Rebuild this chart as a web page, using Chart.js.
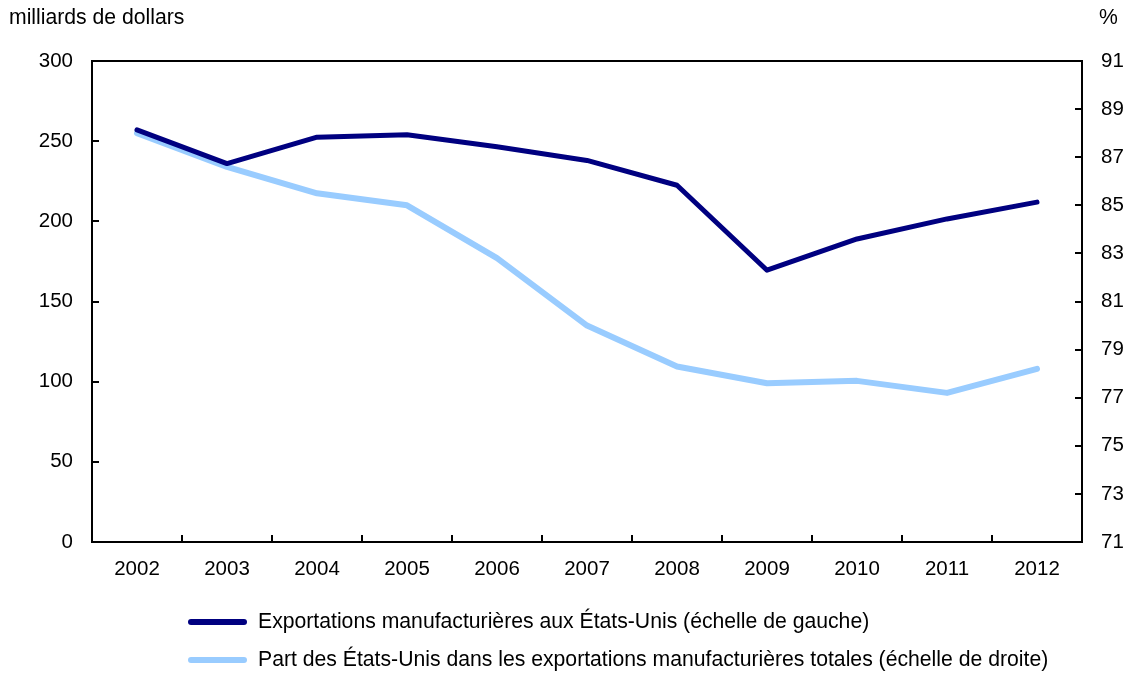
<!DOCTYPE html>
<html>
<head>
<meta charset="utf-8">
<script src="https://cdn.jsdelivr.net/npm/chart.js@4"></script>
<style>
  html, body { margin: 0; padding: 0; background: #fff; }
</style>
</head>
<body>
<canvas id="chart" width="1126" height="673"></canvas>
<script>
// data
const years = ["2002", "2003", "2004", "2005", "2006", "2007", "2008", "2009", "2010", "2011", "2012"];
const exportsUS = [257, 236, 252.5, 254, 246.5, 238, 222.5, 169.5, 189, 201.5, 212];   // milliards de dollars
const shareUS = [88.0, 86.6, 85.5, 85.0, 82.8, 80.0, 78.3, 77.6, 77.7, 77.2, 78.2];    // %

const seriesNames = [
  "Exportations manufacturières aux États-Unis (échelle de gauche)",
  "Part des États-Unis dans les exportations manufacturières totales (échelle de droite)",
];
const seriesColors = ["#000080", "#99ccff"];

const leftTitle = "milliards de dollars";
const rightTitle = "%";

const FONT = "'Liberation Sans', Arial, sans-serif";
const TICK_SIZE = 20.5;
const TEXT_SIZE = 21.2;

// inner tick marks, top border, axis titles and the legend
const decorPlugin = {
  id: "decor",
  afterDraw(chart) {
    const ctx = chart.ctx;
    const area = chart.chartArea;
    const x = chart.scales.x;
    const yL = chart.scales.y;
    const yR = chart.scales.y1;
    const tickLen = 7;

    ctx.save();
    ctx.strokeStyle = "#000";
    ctx.lineWidth = 2;

    // top border
    ctx.beginPath();
    ctx.moveTo(area.left - 1, area.top);
    ctx.lineTo(area.right + 1, area.top);
    ctx.stroke();

    // left ticks
    yL.ticks.forEach((t) => {
      if (t.value <= yL.min || t.value >= yL.max) return;
      const py = Math.round(yL.getPixelForValue(t.value));
      ctx.beginPath();
      ctx.moveTo(area.left, py);
      ctx.lineTo(area.left + tickLen, py);
      ctx.stroke();
    });

    // right ticks
    yR.ticks.forEach((t) => {
      if (t.value <= yR.min || t.value >= yR.max) return;
      const py = Math.round(yR.getPixelForValue(t.value));
      ctx.beginPath();
      ctx.moveTo(area.right, py);
      ctx.lineTo(area.right - tickLen, py);
      ctx.stroke();
    });

    // x ticks between categories
    for (let i = 0; i < years.length - 1; i++) {
      const px = Math.round((x.getPixelForTick(i) + x.getPixelForTick(i + 1)) / 2);
      ctx.beginPath();
      ctx.moveTo(px, area.bottom);
      ctx.lineTo(px, area.bottom - tickLen);
      ctx.stroke();
    }

    // axis titles
    ctx.fillStyle = "#000";
    ctx.font = TEXT_SIZE + "px " + FONT;
    ctx.textBaseline = "middle";
    ctx.textAlign = "left";
    ctx.fillText(leftTitle, 9, 18);
    ctx.fillText(rightTitle, 1099, 18);

    // legend
    const legendY = [622, 660];
    seriesNames.forEach((name, i) => {
      ctx.strokeStyle = seriesColors[i];
      ctx.lineWidth = 6;
      ctx.lineCap = "round";
      ctx.beginPath();
      ctx.moveTo(191, legendY[i]);
      ctx.lineTo(244, legendY[i]);
      ctx.stroke();
      ctx.fillText(name, 258, legendY[i]);
    });

    ctx.restore();
  },
};

const tickFont = { family: FONT, size: TICK_SIZE };

new Chart(document.getElementById("chart"), {
  type: "line",
  data: {
    labels: years,
    datasets: [
      {
        label: seriesNames[0],
        data: exportsUS,
        yAxisID: "y",
        borderColor: seriesColors[0],
        backgroundColor: seriesColors[0],
        borderWidth: 5,
        pointRadius: 0,
        tension: 0,
        borderCapStyle: "round",
        borderJoinStyle: "round",
      },
      {
        label: seriesNames[1],
        data: shareUS,
        yAxisID: "y1",
        borderColor: seriesColors[1],
        backgroundColor: seriesColors[1],
        borderWidth: 6,
        pointRadius: 0,
        tension: 0,
        borderCapStyle: "round",
        borderJoinStyle: "round",
      },
    ],
  },
  options: {
    responsive: false,
    animation: false,
    layout: {
      padding: { top: 61, bottom: 86, left: 0, right: 0 },
    },
    plugins: {
      legend: { display: false },
      tooltip: { enabled: false },
    },
    scales: {
      x: {
        offset: true,
        grid: { display: true, drawOnChartArea: false, drawTicks: false },
        border: { display: true, color: "#000", width: 2 },
        ticks: { color: "#000", font: tickFont, padding: 15, maxRotation: 0 },
        afterFit(scale) {
          scale.height = 45;
        },
      },
      y: {
        position: "left",
        min: 0,
        max: 300,
        grid: { display: true, drawOnChartArea: false, drawTicks: false },
        border: { display: true, color: "#000", width: 2 },
        ticks: { stepSize: 50, color: "#000", font: tickFont, padding: 19 },
        afterFit(scale) {
          scale.width = 92;
        },
      },
      y1: {
        position: "right",
        min: 71,
        max: 91,
        grid: { display: true, drawOnChartArea: false, drawTicks: false },
        border: { display: true, color: "#000", width: 2 },
        ticks: { stepSize: 2, color: "#000", font: tickFont, padding: 19 },
        afterFit(scale) {
          scale.width = 44;
        },
      },
    },
  },
  plugins: [decorPlugin],
});
</script>
</body>
</html>
